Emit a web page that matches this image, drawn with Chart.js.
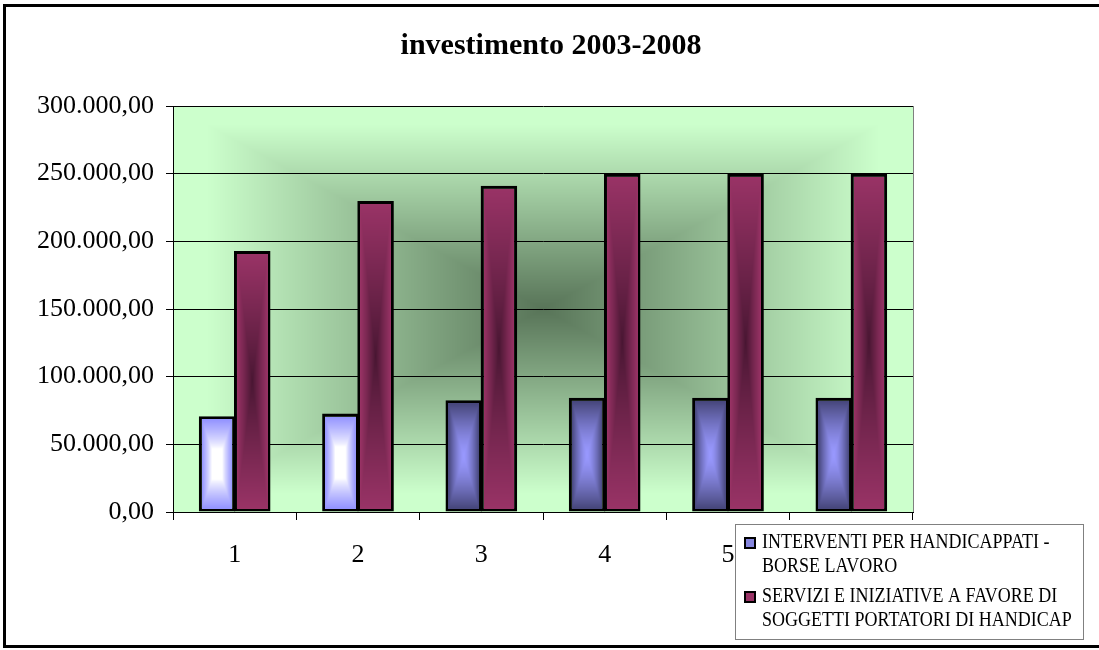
<!DOCTYPE html>
<html>
<head>
<meta charset="utf-8">
<script src="https://cdn.jsdelivr.net/npm/chart.js@4.4.0/dist/chart.umd.min.js"></script>
<style>
  html, body { margin: 0; padding: 0; background: #fff; }
  #wrap { width: 1099px; height: 650px; position: relative; }
</style>
</head>
<body>
<div id="wrap"><canvas id="investChart" width="1099" height="650"></canvas></div>
<script>
// annualità 2003-2008 (1..6)
const years = ['1', '2', '3', '4', '5', '6'];
const borseLavoro = [70700, 72700, 82500, 84500, 84500, 84500];
const serviziHandicap = [192800, 229800, 241100, 250000, 250000, 250000];
const seriesNames = [
  ['INTERVENTI PER HANDICAPPATI -', 'BORSE LAVORO'],
  ['SERVIZI E INIZIATIVE A FAVORE DI', 'SOGGETTI PORTATORI DI HANDICAP']
];
const chartTitle = 'investimento 2003-2008';
const yMax = 300000;
const yStep = 50000;

const serif = '"Liberation Serif", "Times New Roman", serif';
const BORDER = 3;

function euro(v) {
  const parts = Number(v).toFixed(2).split('.');
  return parts[0].replace(/\B(?=(\d{3})+(?!\d))/g, '.') + ',' + parts[1];
}

// rectangular "from centre" fill, painted pixel by pixel on a scratch canvas
function shadeRect(w, h, inner, outer, shape) {
  w = Math.max(1, Math.round(w));
  h = Math.max(1, Math.round(h));
  const c = document.createElement('canvas');
  c.width = w; c.height = h;
  const g = c.getContext('2d');
  const img = g.createImageData(w, h);
  const hw = w / 2, hh = h / 2;
  for (let j = 0; j < h; j++) {
    for (let i = 0; i < w; i++) {
      const t = Math.max(Math.abs(i + 0.5 - hw) / hw, Math.abs(j + 0.5 - hh) / hh);
      const s = shape(Math.min(1, t));
      const k = (j * w + i) * 4;
      img.data[k] = inner[0] + (outer[0] - inner[0]) * s;
      img.data[k + 1] = inner[1] + (outer[1] - inner[1]) * s;
      img.data[k + 2] = inner[2] + (outer[2] - inner[2]) * s;
      img.data[k + 3] = 255;
    }
  }
  g.putImageData(img, 0, 0);
  return c;
}

const clamp01 = v => Math.max(0, Math.min(1, v));

const fills = {
  plot: { inner: [88, 116, 88], outer: [204, 255, 204], shape: t => Math.min(1, 1.1 * t) },
  blue: { inner: [153, 153, 255], outer: [70, 70, 122], shape: t => Math.pow(t, 1.4) },
  paleBlue: { inner: [255, 255, 255], outer: [148, 148, 255], shape: t => Math.pow(clamp01((t - 0.35) / 0.65), 0.8) },
  red: { inner: [72, 22, 50], outer: [153, 51, 102], shape: t => Math.pow(t, 0.9) }
};

const backdrop = {
  id: 'backdrop',
  beforeDraw(chart) {
    const { ctx, chartArea: a } = chart;
    ctx.save();
    ctx.fillStyle = '#fff';
    ctx.fillRect(0, 0, chart.width, chart.height);
    ctx.lineWidth = 3;
    ctx.strokeStyle = '#000';
    ctx.strokeRect(4.5, 5.5, 1100, 641);
    const f = fills.plot;
    ctx.drawImage(shadeRect(a.right - a.left, a.bottom - a.top, f.inner, f.outer, f.shape), a.left, a.top, a.right - a.left, a.bottom - a.top);
    ctx.strokeStyle = '#808080';
    ctx.lineWidth = 1;
    ctx.beginPath();
    ctx.moveTo(a.right + 0.5, a.top);
    ctx.lineTo(a.right + 0.5, a.bottom);
    ctx.stroke();
    // title, centred on the whole frame
    ctx.fillStyle = '#000';
    ctx.font = 'bold 30px ' + serif;
    ctx.textAlign = 'center';
    ctx.textBaseline = 'middle';
    ctx.fillText(chartTitle, 551, 46);
    ctx.restore();
  }
};

const barShading = {
  id: 'barShading',
  afterDatasetDraw(chart, args) {
    const { ctx } = chart;
    const bw = BORDER;
    ctx.save();
    args.meta.data.forEach((bar, idx) => {
      const p = bar.getProps(['x', 'y', 'base', 'width'], true);
      const left = p.x - p.width / 2 + bw;
      const top = p.y + bw;
      const w = p.width - 2 * bw;
      const h = p.base - p.y - 2 * bw;
      if (w <= 0 || h <= 0) return;
      let f;
      if (args.index === 1) f = fills.red;
      else f = idx < 2 ? fills.paleBlue : fills.blue;
      ctx.drawImage(shadeRect(w, h, f.inner, f.outer, f.shape), left, top, w, h);
    });
    ctx.restore();
  }
};

const boxLegend = {
  id: 'boxLegend',
  afterDraw(chart) {
    const { ctx } = chart;
    const x = 735, y = 524, w = 348, h = 115;
    const markers = ['#8585dd', '#993366'];
    const lineGap = 24, itemGap = 30;
    ctx.save();
    ctx.fillStyle = '#fff';
    ctx.fillRect(x, y, w, h);
    ctx.strokeStyle = '#808080';
    ctx.lineWidth = 1;
    ctx.strokeRect(x + 0.5, y + 0.5, w, h);
    ctx.font = '18px ' + serif;
    ctx.textBaseline = 'middle';
    let ly = y + 19;
    chart.data.datasets.forEach((ds, i) => {
      ctx.fillStyle = markers[i];
      ctx.fillRect(x + 10, ly - 5, 10, 10);
      ctx.strokeStyle = '#000';
      ctx.lineWidth = 2;
      ctx.strokeRect(x + 10, ly - 5, 10, 10);
      ctx.fillStyle = '#000';
      ds.label.forEach((line, k) => {
        ctx.save();
        ctx.translate(x + 27, ly + k * lineGap);
        ctx.scale(1, 1.15);
        ctx.fillText(line, 0, 0);
        ctx.restore();
      });
      ly += (ds.label.length - 1) * lineGap + itemGap;
    });
    ctx.restore();
  }
};

new Chart(document.getElementById('investChart'), {
  type: 'bar',
  data: {
    labels: years,
    datasets: [
      {
        label: seriesNames[0],
        data: borseLavoro,
        backgroundColor: '#000',
        borderColor: '#000',
        borderWidth: BORDER,
        borderSkipped: false
      },
      {
        label: seriesNames[1],
        data: serviziHandicap,
        backgroundColor: '#000',
        borderColor: '#000',
        borderWidth: BORDER,
        borderSkipped: false
      }
    ]
  },
  options: {
    responsive: false,
    animation: false,
    datasets: { bar: { categoryPercentage: 0.57, barPercentage: 1.04 } },
    layout: { padding: { left: 5, right: 186, top: 106, bottom: 0 } },
    plugins: {
      legend: { display: false },
      tooltip: { enabled: false },
      title: { display: false }
    },
    scales: {
      x: {
        grid: { offset: true, drawOnChartArea: false, drawTicks: true, tickLength: 8, color: '#000' },
        border: { color: '#000', width: 1 },
        ticks: { color: '#000', font: { family: serif, size: 26 }, padding: 20 },
        afterFit(scale) { scale.height = 138; }
      },
      y: {
        min: 0,
        max: yMax,
        ticks: { stepSize: yStep, color: '#000', font: { family: serif, size: 26 }, padding: 12, callback: euro },
        grid: { color: '#000', tickLength: 7 },
        border: { color: '#000', width: 1 },
        afterFit(scale) { scale.width = 168; }
      }
    }
  },
  plugins: [backdrop, barShading, boxLegend]
});
</script>
</body>
</html>
